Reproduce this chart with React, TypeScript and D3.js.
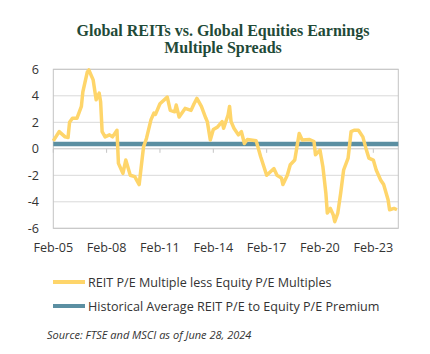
import React, { useEffect, useRef } from 'react';
import * as d3 from 'd3';

// REIT P/E less equity P/E spread
const spreadDates = [
  '2005-02', '2005-06', '2005-10', '2005-12', '2006-01', '2006-03', '2006-06', '2006-09',
  '2006-10', '2007-01', '2007-02', '2007-05', '2007-07', '2007-09', '2007-10', '2007-11',
  '2008-01', '2008-04', '2008-06', '2008-09', '2008-10', '2009-01', '2009-03', '2009-06',
  '2009-09', '2009-12', '2010-03', '2010-05', '2010-08', '2010-10', '2010-11', '2011-02',
  '2011-07', '2011-09', '2011-12', '2012-01', '2012-03', '2012-07', '2012-11', '2013-01',
  '2013-03', '2013-06', '2013-09', '2013-10', '2013-12', '2014-02', '2014-05', '2014-08',
  '2014-09', '2014-12', '2015-01', '2015-02', '2015-04', '2015-07', '2015-09', '2015-11',
  '2016-01', '2016-07', '2016-10', '2017-02', '2017-05', '2017-07', '2017-09', '2017-12',
  '2018-01', '2018-04', '2018-06', '2018-09', '2018-12', '2019-02', '2019-07', '2019-10',
  '2019-11', '2020-02', '2020-04', '2020-06', '2020-07', '2020-09', '2020-11', '2020-12',
  '2021-02', '2021-04', '2021-06', '2021-09', '2021-11', '2022-01', '2022-04', '2022-07',
  '2022-09', '2022-11', '2023-02', '2023-04', '2023-07', '2023-09', '2023-12', '2024-01',
  '2024-04', '2024-06',
];
const spreadValues = [
  0.6, 1.3, 0.9, 0.85, 2.0, 2.3, 2.3, 3.2,
  4.3, 5.8, 5.95, 5.2, 3.7, 4.2, 3.55, 1.3,
  0.9, 1.05, 0.9, 1.4, -1.1, -1.85, -0.85, -2.0,
  -2.1, -2.7, 0.15, 0.8, 2.2, 2.7, 2.6, 3.4,
  3.9, 2.9, 2.8, 3.3, 2.4, 3.05, 2.9, 3.4,
  3.8, 3.2, 2.3, 2.05, 0.66, 1.45, 1.65, 2.05,
  1.55, 2.55, 3.2, 2.05, 1.55, 1.05, 1.3, 0.4,
  0.7, 0.6, -0.6, -2.0, -1.7, -1.5, -2.0, -2.2,
  -2.7, -2.0, -1.2, -0.85, 1.15, 0.66, 0.7, 0.55,
  -0.45, -0.1, -1.35, -3.35, -4.85, -4.5, -5.0, -5.5,
  -4.85, -3.35, -1.6, -0.7, 1.3, 1.4, 1.4, 0.9,
  0.05, -0.7, -0.85, -1.6, -2.35, -2.7, -3.85, -4.6,
  -4.5, -4.6,
];
const historicalAverage = 0.36;

const xTickLabels = ['Feb-05', 'Feb-08', 'Feb-11', 'Feb-14', 'Feb-17', 'Feb-20', 'Feb-23'];
const yTicks = [-6, -4, -2, 0, 2, 4, 6];
const legendLabels = [
  'REIT P/E Multiple less Equity P/E Multiples',
  'Historical Average REIT P/E to Equity P/E Premium',
];

const YELLOW = '#fed56a';
const BLUE = '#5b8fa2';
const SANS = '"Open Sans", sans-serif';

export default function App() {
  const svgRef = useRef<SVGSVGElement>(null);

  useEffect(() => {
    if (!svgRef.current) return;
    const svg = d3.select(svgRef.current);
    svg.selectAll('*').remove();

    const left = 53.3;
    const right = 398.3;
    const top = 69.3;
    const bottom = 228.3;

    const parse = d3.timeParse('%Y-%m');
    const data = spreadDates.map((d, i) => ({ date: parse(d) as Date, value: spreadValues[i] }));

    const x = d3
      .scaleTime()
      .domain([new Date(2005, 1, 1), new Date(2024, 5, 28)])
      .range([left, right]);
    const y = d3.scaleLinear().domain([-6, 6]).range([bottom, top]);

    // Title
    svg
      .append('text')
      .attr('x', 223)
      .attr('y', 36)
      .attr('text-anchor', 'middle')
      .attr('font-family', '"Liberation Serif", serif')
      .attr('font-weight', 'bold')
      .attr('font-size', '16px')
      .attr('fill', '#1f4a38')
      .selectAll('tspan')
      .data(['Global REITs vs. Global Equities Earnings', 'Multiple Spreads'])
      .join('tspan')
      .attr('x', 223)
      .attr('dy', (d, i) => (i === 0 ? 0 : 17))
      .text(d => d);

    // Grid lines
    svg
      .append('g')
      .selectAll('line')
      .data(yTicks.filter(t => t !== 0))
      .join('line')
      .attr('x1', left)
      .attr('x2', right)
      .attr('y1', d => y(d))
      .attr('y2', d => y(d))
      .attr('stroke', '#d9d9d9')
      .attr('stroke-width', 1);

    // Plot border
    svg
      .append('rect')
      .attr('x', left)
      .attr('y', top)
      .attr('width', right - left)
      .attr('height', bottom - top)
      .attr('fill', 'none')
      .attr('stroke', '#c4c4c4')
      .attr('stroke-width', 1);

    // Zero axis with tick marks
    svg
      .append('line')
      .attr('x1', left)
      .attr('x2', right)
      .attr('y1', y(0))
      .attr('y2', y(0))
      .attr('stroke', '#c4c4c4');

    const tickDates = xTickLabels.map((_, i) => new Date(2005 + i * 3, 1, 1));
    svg
      .append('g')
      .selectAll('line')
      .data(tickDates)
      .join('line')
      .attr('x1', d => x(d))
      .attr('x2', d => x(d))
      .attr('y1', y(0))
      .attr('y2', y(0) + 4)
      .attr('stroke', '#c4c4c4');

    // Y tick labels
    svg
      .append('g')
      .selectAll('text')
      .data(yTicks)
      .join('text')
      .attr('x', 39)
      .attr('y', d => y(d) + 4.5)
      .attr('text-anchor', 'end')
      .attr('font-family', SANS)
      .attr('font-size', '12.6px')
      .attr('fill', '#333')
      .text(d => d);

    // X tick labels
    svg
      .append('g')
      .selectAll('text')
      .data(tickDates)
      .join('text')
      .attr('x', d => x(d))
      .attr('y', 251.5)
      .attr('text-anchor', 'middle')
      .attr('font-family', SANS)
      .attr('font-size', '12.6px')
      .attr('fill', '#333')
      .text((d, i) => xTickLabels[i]);

    // Historical average
    svg
      .append('line')
      .attr('x1', left)
      .attr('x2', right)
      .attr('y1', y(historicalAverage))
      .attr('y2', y(historicalAverage))
      .attr('stroke', BLUE)
      .attr('stroke-width', 4.5);

    // Spread line
    const line = d3
      .line<{ date: Date; value: number }>()
      .x(d => x(d.date))
      .y(d => y(d.value))
      .curve(d3.curveLinear);

    svg
      .append('path')
      .datum(data)
      .attr('fill', 'none')
      .attr('stroke', YELLOW)
      .attr('stroke-width', 3.5)
      .attr('stroke-linejoin', 'round')
      .attr('d', line);

    // Legend
    const legend = svg
      .append('g')
      .selectAll('g')
      .data(legendLabels)
      .join('g')
      .attr('transform', (d, i) => `translate(53,${282 + i * 24})`);

    legend
      .append('line')
      .attr('x1', 0)
      .attr('x2', 32)
      .attr('stroke', (d, i) => (i === 0 ? YELLOW : BLUE))
      .attr('stroke-width', 4);

    legend
      .append('text')
      .attr('x', 35)
      .attr('y', 4.5)
      .attr('font-family', SANS)
      .attr('font-size', '12.6px')
      .attr('fill', '#333')
      .text(d => d);

    // Source
    svg
      .append('text')
      .attr('x', 47)
      .attr('y', 339)
      .attr('font-family', SANS)
      .attr('font-style', 'italic')
      .attr('font-size', '11px')
      .attr('fill', '#333')
      .text('Source: FTSE and MSCI as of June 28, 2024');
  }, []);

  return (
    <svg
      ref={svgRef}
      width={430}
      height={354}
      style={{ position: 'absolute', left: 0, top: 0, background: '#fff' }}
    />
  );
}
